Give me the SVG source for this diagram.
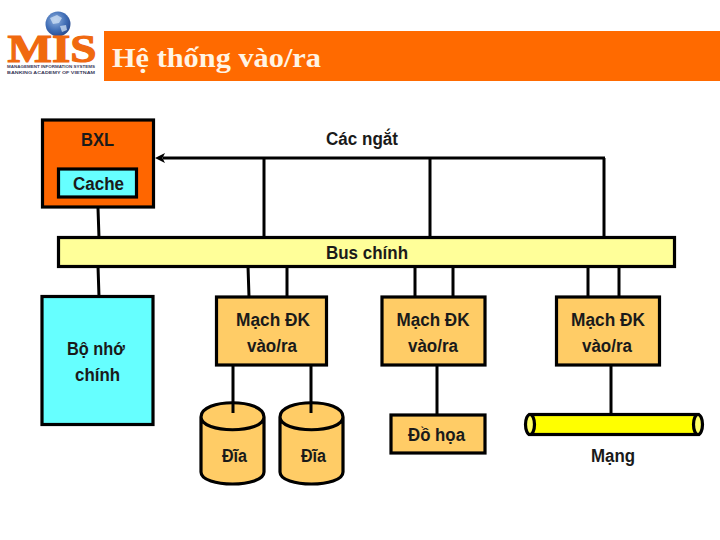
<svg xmlns="http://www.w3.org/2000/svg" width="720" height="540" viewBox="0 0 720 540">
<defs>
<radialGradient id="globe" cx="0.4" cy="0.35" r="0.7"><stop offset="0" stop-color="#8fb0de"/><stop offset="0.6" stop-color="#3f6db5"/><stop offset="1" stop-color="#27478a"/></radialGradient>
</defs>
<style>
.b{stroke:#000;stroke-width:3.2}
.t{font-family:"Liberation Sans",Arial,sans-serif;font-weight:700;font-size:18px;fill:#1a1a1a;text-anchor:middle}
.c{stroke:#000;stroke-width:3;fill:none}
.o{fill:#ffcc66}
.s{font-family:"Liberation Sans",sans-serif;font-weight:700;font-size:4px;fill:#3a3a5a;text-anchor:middle}
</style>
<rect width="720" height="540" fill="#fff"/>
<g id="logo">
<circle cx="58" cy="24" r="12.500" fill="url(#globe)"/>
<path d="M50 18l7-3 5 3-3 5-6 1zM60 26l6-1 1 5-5 2z" fill="#cfe0f4" opacity="0.75"/>
<text x="52" y="62" text-anchor="middle" font-family="Liberation Serif,serif" font-weight="700" font-size="41" fill="#f0690f" stroke="#f0690f" stroke-width="1.200" textLength="89" lengthAdjust="spacingAndGlyphs">MIS</text>
<text class="s" x="51" y="67.500" textLength="88" lengthAdjust="spacingAndGlyphs">MANAGEMENT INFORMATION SYSTEMS</text>
<text class="s" x="51" y="73.500" textLength="88" lengthAdjust="spacingAndGlyphs">BANKING ACADEMY OF VIETNAM</text>
</g>
<g id="title">
<rect x="104" y="31" width="616" height="50" fill="#ff6a00"/>
<text x="112" y="67" font-family="Liberation Serif,'DejaVu Serif',serif" font-weight="700" font-size="27" fill="#fff4e4" textLength="209" lengthAdjust="spacingAndGlyphs">Hệ thống vào/ra</text>
</g>
<g id="bxl">
<rect x="42.500" y="120" width="111" height="87" fill="#ff6600" class="b"/>
<text class="t" x="97.500" y="146" textLength="33" lengthAdjust="spacingAndGlyphs">BXL</text>
</g>
<g id="cache">
<rect x="58.500" y="169" width="78" height="28" fill="#66ffff" class="b"/>
<text class="t" x="98.500" y="190" textLength="51" lengthAdjust="spacingAndGlyphs">Cache</text>
</g>
<g id="bus">
<rect x="58.500" y="237.500" width="616" height="29" fill="#ffff99" class="b"/>
<text class="t" x="367" y="259" textLength="82" lengthAdjust="spacingAndGlyphs">Bus chính</text>
</g>
<g id="mem">
<rect x="42" y="296.500" width="111" height="128" fill="#66ffff" class="b"/>
<text class="t" x="96" y="355" textLength="58" lengthAdjust="spacingAndGlyphs">Bộ nhớ</text>
<text class="t" x="97.500" y="381" textLength="45" lengthAdjust="spacingAndGlyphs">chính</text>
</g>
<g id="io1">
<rect x="216.500" y="297" width="110" height="68" class="b o"/>
<text class="t" x="273" y="326" textLength="74" lengthAdjust="spacingAndGlyphs">Mạch ĐK</text>
<text class="t" x="272" y="352" textLength="50" lengthAdjust="spacingAndGlyphs">vào/ra</text>
</g>
<g id="io2">
<rect x="382" y="297" width="103" height="68" class="b o"/>
<text class="t" x="433" y="326" textLength="73" lengthAdjust="spacingAndGlyphs">Mạch ĐK</text>
<text class="t" x="433" y="352" textLength="50" lengthAdjust="spacingAndGlyphs">vào/ra</text>
</g>
<g id="io3">
<rect x="556.500" y="297" width="103" height="68" class="b o"/>
<text class="t" x="608" y="326" textLength="74" lengthAdjust="spacingAndGlyphs">Mạch ĐK</text>
<text class="t" x="607" y="352" textLength="50" lengthAdjust="spacingAndGlyphs">vào/ra</text>
</g>
<g id="disk1">
<path class="b o" d="M201 417V472C201 488 264 488 264 472V417C264 398 201 398 201 417C201 434 264 434 264 417"/>
<text class="t" x="234.500" y="462" textLength="25" lengthAdjust="spacingAndGlyphs">Đĩa</text>
</g>
<g id="disk2">
<path class="b o" d="M280 417V472C280 488 343 488 343 472V417C343 398 280 398 280 417C280 434 343 434 343 417"/>
<text class="t" x="313.500" y="462" textLength="25" lengthAdjust="spacingAndGlyphs">Đĩa</text>
</g>
<g id="gfx">
<rect x="391" y="415" width="94" height="38" class="b o"/>
<text class="t" x="436.500" y="441" textLength="57" lengthAdjust="spacingAndGlyphs">Đồ họa</text>
</g>
<g id="net">
<rect x="530" y="414.500" width="168" height="20" fill="#ffff00" class="b"/>
<ellipse cx="530" cy="424.500" rx="4.500" ry="10" fill="#ffff66" class="b"/>
<ellipse cx="698" cy="424.500" rx="4.500" ry="10" fill="#ffff66" class="b"/>
<text class="t" x="613" y="462" textLength="44" lengthAdjust="spacingAndGlyphs">Mạng</text>
</g>
<text class="t" x="362" y="145" id="interrupts" textLength="72" lengthAdjust="spacingAndGlyphs">Các ngắt</text>
<g id="connectors">
<path class="c" d="M98 208L99 238M98 266L99 297M248 266L249 297M287 266V297M264 158V238M430 158V238M604 158V238M415 266V297M453 266V297M588 266V297M619 266V297M233 365V413M311 365V413M437 365V414M611 365V414"/>
<path class="c" d="M163 158H605"/>
<path d="M155 158L165 153L162.500 158L165 163Z" fill="#000"/>
</g>
</svg>
